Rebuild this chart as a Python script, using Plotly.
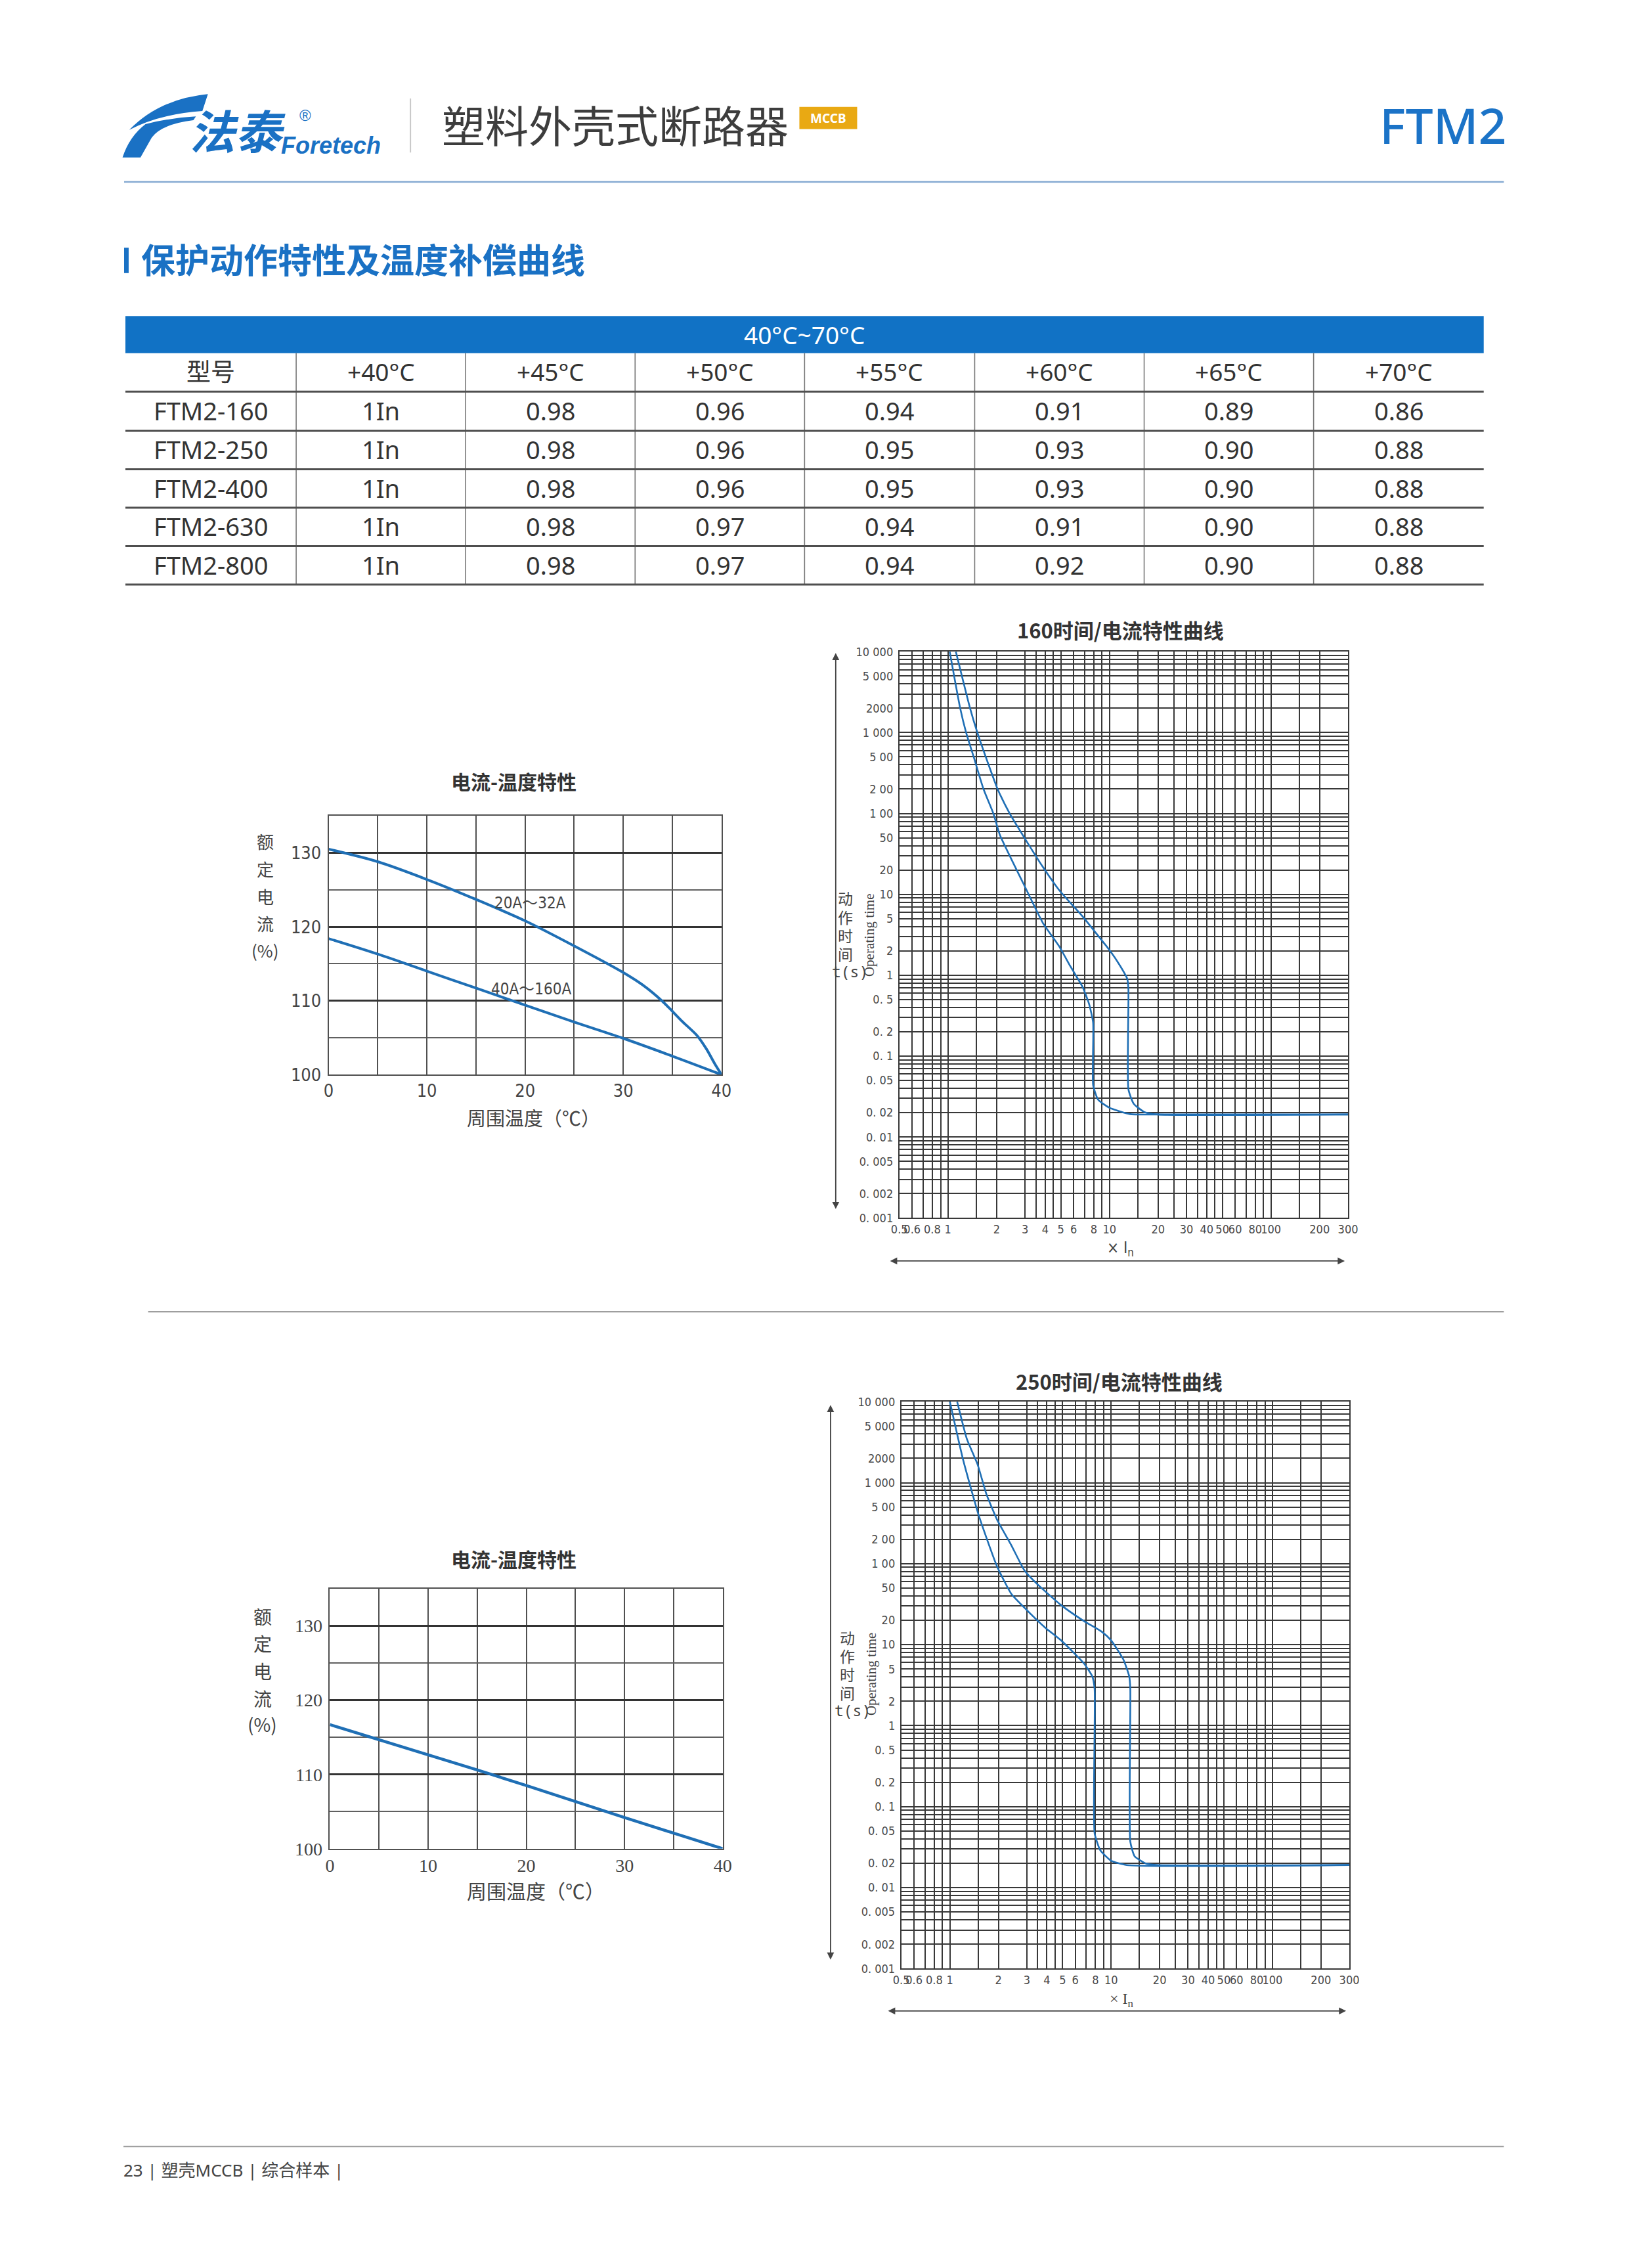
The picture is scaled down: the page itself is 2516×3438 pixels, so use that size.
import plotly.graph_objects as go

W, H = 2516, 3438

# ---------------- data ----------------
brand_cn = "法泰"
brand_en = "Foretech"
page_title = "塑料外壳式断路器"
badge_text = "MCCB"
product = "FTM2"
section_title = "保护动作特性及温度补偿曲线"
footer_text = "23 | 塑壳MCCB | 综合样本 |"

table_span = "40°C~70°C"
table_cols = ["型号", "+40°C", "+45°C", "+50°C", "+55°C", "+60°C", "+65°C", "+70°C"]
models = ["FTM2-160", "FTM2-250", "FTM2-400", "FTM2-630", "FTM2-800"]
c40 = ["1In", "1In", "1In", "1In", "1In"]
c45 = [0.98, 0.98, 0.98, 0.98, 0.98]
c50 = [0.96, 0.96, 0.96, 0.97, 0.97]
c55 = [0.94, 0.95, 0.95, 0.94, 0.94]
c60 = [0.91, 0.93, 0.93, 0.91, 0.92]
c65 = [0.89, 0.90, 0.90, 0.90, 0.90]
c70 = [0.86, 0.88, 0.88, 0.88, 0.88]

# current - temperature characteristic (upper: 160 frame)
temp_a = [0, 5, 10, 15, 20, 25, 30, 32, 34, 36, 37.5, 38.5, 39.3, 40]
cur_20_32A = [130.5, 128.8, 126.4, 123.7, 120.8, 117.4, 113.8, 112.1, 109.9, 107.2, 105.3, 103.4, 101.5, 100.0]
temp_b = [0, 5, 10, 15, 20, 25, 30, 35, 40]
cur_40_160A = [118.4, 116.3, 114.0, 111.7, 109.4, 107.1, 104.9, 102.5, 100.0]
# lower: 250 frame
cur_250 = [116.7, 114.7, 112.6, 110.6, 108.5, 106.3, 104.2, 102.1, 100.0]
temp_ticks = [0, 10, 20, 30, 40]
pct_ticks = [100, 110, 120, 130]

# time - current curves, 160 frame
x160_fast = [1.025, 1.19, 1.295, 1.443, 1.66, 1.91, 2.1, 2.93, 3.87, 4.86, 5.74, 6.83, 7.48, 7.92, 7.92, 8.5, 10, 13.4, 20, 300]
t160_fast = [10000, 2000, 1000, 500, 200, 100, 53.7, 13.6, 4.43, 2.31, 1.28, 0.71, 0.44, 0.26, 0.044, 0.029, 0.023, 0.0192, 0.019, 0.019]
x160_slow = [1.119, 1.37, 1.52, 1.714, 2.03, 2.41, 2.91, 3.87, 4.86, 6.83, 8.09, 10, 11.5, 12.9, 13.1, 13.1, 14.1, 16.4, 20, 300]
t160_slow = [10000, 2000, 1000, 500, 200, 100, 53.7, 21.8, 11.4, 5.3, 3.49, 2.05, 1.36, 0.90, 0.667, 0.039, 0.026, 0.0204, 0.019, 0.019]

# time - current curves, 250 frame
x250_fast = [1.0, 1.21, 1.51, 1.96, 2.4, 2.9, 3.89, 4.89, 6.8, 7.64, 7.9, 7.9, 8.56, 10, 12.5, 300]
t250_fast = [10000, 1898, 396, 93, 42.7, 28.6, 16.3, 11.3, 5.83, 4.06, 2.83, 0.047, 0.029, 0.0215, 0.019, 0.019]
x250_slow = [1.11, 1.275, 1.485, 1.685, 1.96, 2.4, 2.9, 3.43, 4.89, 6.8, 8.77, 10, 11.9, 12.95, 13.15, 13.15, 14.0, 16.5, 19.7, 300]
t250_slow = [10000, 3465, 1683, 723, 351, 170, 82.6, 57.5, 30.8, 19.5, 14.4, 11.3, 6.58, 4.06, 2.83, 0.037, 0.0243, 0.0198, 0.019, 0.019]

# log-grid values and tick labels
x_grid = [0.5, 0.6, 0.7, 0.8, 0.9, 1, 1.5, 2, 3, 3.5, 4, 4.5, 5, 6, 7, 8, 9, 10, 15, 20, 25, 30, 35, 40, 45,
          50, 60, 70, 80, 90, 100, 150, 200, 300]
x_labels = {0.5: "0.5", 0.6: "0.6", 0.8: "0.8", 1: "1", 2: "2", 3: "3", 4: "4", 5: "5", 6: "6", 8: "8",
            10: "10", 20: "20", 30: "30", 40: "40", 50: "50", 60: "60", 80: "80", 100: "100",
            200: "200", 300: "300"}
y_grid = [m * 10.0 ** e for e in range(-3, 4) for m in range(1, 10)] + [10000]
y_labels = {10000: "10 000", 5000: "5 000", 2000: "2000", 1000: "1 000", 500: "5 00", 200: "2 00",
            100: "1 00", 50: "50", 20: "20", 10: "10", 5: "5", 2: "2", 1: "1", 0.5: "0. 5",
            0.2: "0. 2", 0.1: "0. 1", 0.05: "0. 05", 0.02: "0. 02", 0.01: "0. 01",
            0.005: "0. 005", 0.002: "0. 002", 0.001: "0. 001"}

# ---------------- helpers ----------------
BLUE = "#1a71c4"
CURVE = "#1f6fb5"
CJK = "Noto Sans CJK SC"
NARROW = "Liberation Sans Narrow, DejaVu Sans Condensed, Liberation Sans, sans-serif"
SERIF = "Liberation Serif, DejaVu Serif, serif"


def fx(x):
    return x / W


def fy(y):
    return 1 - y / H


annotations = []
shapes = []


def text(x, y, s, size, color="#333333", family=CJK, xanchor="center", yanchor="middle",
         weight="normal", angle=0, style="normal"):
    annotations.append(dict(x=fx(x), y=fy(y), xref="paper", yref="paper", text=s, showarrow=False,
                            xanchor=xanchor, yanchor=yanchor, textangle=angle,
                            font=dict(family=family, size=size, color=color, weight=weight, style=style)))


def line(x0, y0, x1, y1, color, width):
    shapes.append(dict(type="line", xref="paper", yref="paper", x0=fx(x0), y0=fy(y0), x1=fx(x1), y1=fy(y1),
                       line=dict(color=color, width=width), layer="above"))


def rect(x0, y0, x1, y1, color):
    shapes.append(dict(type="rect", xref="paper", yref="paper", x0=fx(x0), y0=fy(y0), x1=fx(x1), y1=fy(y1),
                       fillcolor=color, line=dict(width=0), layer="below"))


def path(cmds, color):
    out = []
    for c in cmds:
        op, pts = c[0], c[1:]
        coords = []
        for i in range(0, len(pts), 2):
            coords.append(f"{fx(pts[i]):.5f},{fy(pts[i + 1]):.5f}")
        out.append(op + " " + " ".join(coords))
    shapes.append(dict(type="path", xref="paper", yref="paper", path=" ".join(out) + " Z",
                       fillcolor=color, line=dict(width=0), layer="above"))


def arrow(x, y, ax, ay, color="#444444"):
    annotations.append(dict(x=fx(x), y=fy(y), xref="paper", yref="paper", ax=ax, ay=ay,
                            axref="pixel", ayref="pixel", text="", showarrow=True,
                            arrowhead=2, arrowside="end+start", arrowsize=1.2, arrowwidth=1.8,
                            arrowcolor=color))


def zl(zx, zy):
    # logo sketch coordinates -> page pixels
    return 149.4 + zx * 0.3845, 120 + zy / 3.0


# ---------------- header ----------------
wing = [("M",) + zl(410, 40), ("Q",) + zl(215, 62) + zl(95, 205), ("Q",) + zl(215, 132) + zl(388, 118)]
path(wing, BLUE)
stem = [("M",) + zl(68, 332), ("Q",) + zl(95, 235) + zl(160, 178), ("Q",) + zl(255, 150) + zl(362, 143),
        ("L",) + zl(352, 160), ("Q",) + zl(225, 178) + zl(185, 240), ("L",) + zl(140, 332)]
path(stem, BLUE)
text(276, 187, brand_cn, 70, BLUE, family=CJK, xanchor="left", weight="bold", style="italic")
text(418, 212, brand_en, 36, BLUE, family="Liberation Sans, Arial, sans-serif", xanchor="left",
     weight="bold", style="italic")
text(457, 166, "®", 24, BLUE, family="Liberation Sans, sans-serif")
line(619, 140, 619, 223, "#c8c8c8", 2)
text(665, 178, page_title, 66, "#3d3d3d", family=CJK, xanchor="left")
rect(1218, 153, 1307, 187, "#e9a913")
text(1262.5, 170.5, badge_text, 19, "white", family="Noto Sans, sans-serif", weight="bold")
text(2310, 180, product, 75, "#1b73c7", family="Noto Sans, sans-serif", xanchor="right", weight=500)
line(178, 268, 2303, 268, "#86abd2", 2.5)

# section title
rect(178, 369, 185, 408, BLUE)
text(202, 386, section_title, 52, BLUE, family=CJK, xanchor="left", weight="bold")

# ---------------- table ----------------
col_edges = [180, 443, 704, 965, 1226, 1488, 1749, 2010, 2272]
row_edges = [531, 590, 650, 709, 768, 827, 886]
rect(180, 474, 2272, 531, "#1172c5")
text((180 + 2272) / 2, 502, table_span, 37, "white", family="Noto Sans, sans-serif")
for ce in col_edges[1:-1]:
    line(ce, 531, ce, 886, "#777777", 1.6)
for re_ in row_edges[1:]:
    line(180, re_, 2272, re_, "#4f4f4f", 3)
col_centers = [(col_edges[i] + col_edges[i + 1]) / 2 for i in range(8)]
for i, h in enumerate(table_cols):
    text(col_centers[i], 559, h, 37, "#333333", family="Noto Sans, " + CJK)
columns = [models, c40, c45, c50, c55, c60, c65, c70]
for r in range(len(models)):
    yc = (row_edges[r + 1] + row_edges[r + 2]) / 2 - 1
    for c, col in enumerate(columns):
        v = col[r]
        s = v if isinstance(v, str) else f"{v:.2f}"
        text(col_centers[c], yc, s, 38, "#333333", family="Noto Sans, sans-serif")

# separators / footer
line(215, 2002, 2303, 2002, "#8c8c8c", 2)
line(177, 3283, 2303, 3283, "#9a9a9a", 2)
text(175, 3319, footer_text, 26, "#444444", family="Noto Sans, " + CJK, xanchor="left")

# ---------------- figure ----------------
fig = go.Figure()

fig.add_trace(go.Scatter(x=temp_a, y=cur_20_32A, mode="lines",
                         line=dict(color=CURVE, width=4, shape="spline", smoothing=0.8),
                         xaxis="x", yaxis="y", cliponaxis=False, hoverinfo="skip"))
fig.add_trace(go.Scatter(x=temp_b, y=cur_40_160A, mode="lines",
                         line=dict(color=CURVE, width=4, shape="spline", smoothing=1.0),
                         xaxis="x", yaxis="y", cliponaxis=False, hoverinfo="skip"))
fig.add_trace(go.Scatter(x=temp_b, y=cur_250, mode="lines", line=dict(color=CURVE, width=4.5),
                         xaxis="x3", yaxis="y3", cliponaxis=False, hoverinfo="skip"))
for xs, ts in [(x160_fast, t160_fast), (x160_slow, t160_slow)]:
    fig.add_trace(go.Scatter(x=xs, y=ts, mode="lines",
                             line=dict(color=CURVE, width=2.6, shape="spline", smoothing=0.5),
                             xaxis="x2", yaxis="y2", hoverinfo="skip"))
for xs, ts in [(x250_fast, t250_fast), (x250_slow, t250_slow)]:
    fig.add_trace(go.Scatter(x=xs, y=ts, mode="lines",
                             line=dict(color=CURVE, width=2.6, shape="spline", smoothing=0.5),
                             xaxis="x4", yaxis="y4", hoverinfo="skip"))


def dom_x(x0, x1):
    return [x0 / W, x1 / W]


def dom_y(top, bottom):
    return [1 - bottom / H, 1 - top / H]


def temp_axes(xd, yd, family, size):
    xa = dict(domain=xd, range=[0, 40], tickvals=temp_ticks, ticktext=[str(v) for v in temp_ticks],
              showgrid=True, gridcolor="#505050", gridwidth=1.7, zeroline=False, showline=True,
              mirror=True, linecolor="#505050", linewidth=1.7, ticks="", ticklabelstandoff=0,
              tickfont=dict(family=family, size=size, color="#444444"),
              minor=dict(dtick=5, showgrid=True, gridcolor="#505050", gridwidth=1.7), fixedrange=True)
    ya = dict(domain=yd, range=[100, 135], tickvals=pct_ticks, ticktext=[str(v) for v in pct_ticks],
              showgrid=True, gridcolor="#333333", gridwidth=2.8, zeroline=False, showline=True,
              mirror=True, linecolor="#505050", linewidth=1.7, ticks="", ticklabelstandoff=4,
              tickfont=dict(family=family, size=size, color="#444444"),
              minor=dict(dtick=5, showgrid=True, gridcolor="#606060", gridwidth=1.5), fixedrange=True)
    return xa, ya


def log_axes(xd, yd):
    xa = dict(domain=xd, type="log", range=[-0.30103, 2.4771], tickvals=x_grid,
              ticktext=[x_labels.get(v, "") for v in x_grid], showgrid=True, gridcolor="#383838",
              gridwidth=1.7, zeroline=False, showline=True, mirror=True, linecolor="#383838", linewidth=1.8,
              ticks="", ticklabelstandoff=0, tickangle=0,
              tickfont=dict(family=NARROW, size=18, color="#4a4a4a"), fixedrange=True)
    ya = dict(domain=yd, type="log", range=[-3, 4], tickvals=y_grid,
              ticktext=[y_labels.get(round(v, 6), "") for v in y_grid], showgrid=True, gridcolor="#383838",
              gridwidth=1.7, zeroline=False, showline=True, mirror=True, linecolor="#383838", linewidth=1.8,
              ticks="", ticklabelstandoff=4,
              tickfont=dict(family=NARROW, size=18, color="#4a4a4a"), fixedrange=True)
    return xa, ya


xa1, ya1 = temp_axes(dom_x(493, 1098), dom_y(1241, 1638), NARROW, 27)
xa3, ya3 = temp_axes(dom_x(495, 1100), dom_y(2427, 2826), SERIF, 28)
xa2, ya2 = log_axes(dom_x(1372, 2063), dom_y(989, 1858))
xa4, ya4 = log_axes(dom_x(1375, 2065), dom_y(2140, 3010))
xa1["anchor"] = "y"
ya1["anchor"] = "x"
xa2["anchor"] = "y2"
ya2["anchor"] = "x2"
xa3["anchor"] = "y3"
ya3["anchor"] = "x3"
xa4["anchor"] = "y4"
ya4["anchor"] = "x4"

annotations.append(dict(x=20.5, y=123.2, xref="x", yref="y", text="20A～32A", showarrow=False,
                        font=dict(family=NARROW + ", " + CJK, size=24, color="#444444")))
annotations.append(dict(x=20.6, y=111.6, xref="x", yref="y", text="40A～160A", showarrow=False,
                        font=dict(family=NARROW + ", " + CJK, size=24, color="#444444")))

text(778, 1187, "电流-温度特性", 30, "#333333", weight="bold")
text(778, 2381, "电流-温度特性", 30, "#333333", weight="bold")
for ch, yy in zip(["额", "定", "电", "流", "(%)"], [1280, 1322, 1364, 1406, 1447]):
    text(395, yy, ch, 26, "#444444")
for ch, yy in zip(["额", "定", "电", "流", "(%)"], [2469, 2511, 2553, 2595, 2635]):
    text(391, yy, ch, 28, "#444444")
text(809, 1703, "周围温度（℃）", 29, "#444444")
text(812, 2890, "周围温度（℃）", 30, "#444444")

text(1713, 955, "160时间/电流特性曲线", 31, "#333333", weight="bold")
text(1711, 2108, "250时间/电流特性曲线", 31, "#333333", weight="bold")
for ch, yy in zip(["动", "作", "时", "间"], [1367, 1396, 1424, 1452]):
    text(1289, yy, ch, 23, "#444444")
text(1296, 1480, "t(s)", 23, "#444444", family="Noto Sans Mono, DejaVu Sans Mono, monospace")
text(1326, 1424, "Operating time", 21, "#444444", family=SERIF, angle=-90)
for ch, yy in zip(["动", "作", "时", "间"], [2502, 2530, 2558, 2586]):
    text(1292, yy, ch, 23, "#444444")
text(1300, 2614, "t(s)", 23, "#444444", family="Noto Sans Mono, DejaVu Sans Mono, monospace")
text(1329, 2558, "Operating time", 21, "#444444", family=SERIF, angle=-90)
text(1713, 1905, "× I<sub>n</sub>", 24, "#444444", family=NARROW)
text(1715, 3058, "× I<sub>n</sub>", 24, "#444444", family=SERIF)
arrow(1274, 991, 0, 848)
arrow(2058, 1924, -694, 0)
arrow(1266, 2145, 0, 846)
arrow(2060, 3075, -699, 0)

fig.update_layout(
    width=W, height=H, margin=dict(l=0, r=0, t=0, b=0, pad=0),
    paper_bgcolor="white", plot_bgcolor="white", showlegend=False,
    xaxis=xa1, yaxis=ya1, xaxis2=xa2, yaxis2=ya2, xaxis3=xa3, yaxis3=ya3, xaxis4=xa4, yaxis4=ya4,
    annotations=annotations, shapes=shapes,
)

fig.write_html("out.html")
